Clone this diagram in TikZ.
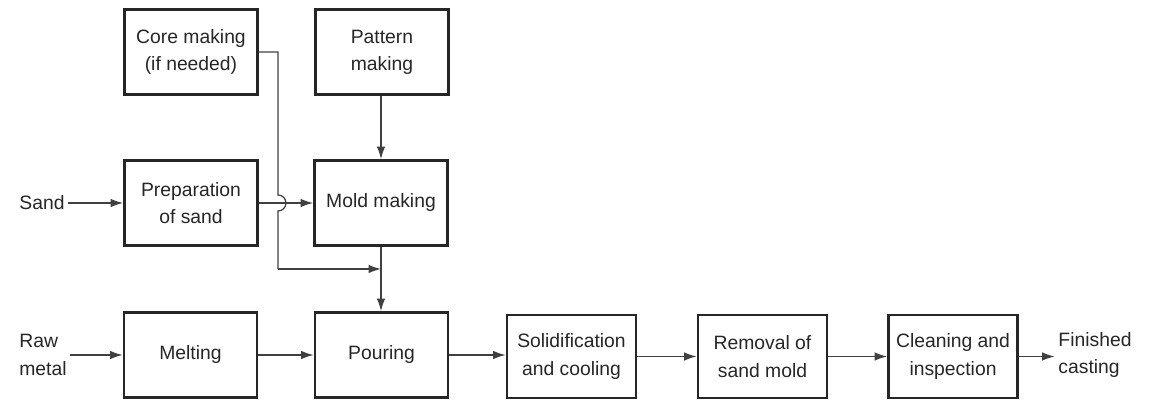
\documentclass[tikz,border=0pt]{standalone}
\usepackage{fontspec}
\setmainfont{Liberation Sans}
\usetikzlibrary{arrows.meta}

\tikzset{
  procbox/.style={draw=black!85, line width=1.6pt, align=center,
    minimum width=2.66cm, minimum height=1.7cm, inner sep=2pt,
    font=\fontsize{11}{15.5}\selectfont, text=black!85},
  lowbox/.style={procbox, minimum width=2.58cm, minimum height=1.66cm},
  endtext/.style={align=left, font=\fontsize{11}{15.5}\selectfont, text=black!85, inner sep=2pt},
  flow/.style={draw=black!75, line width=0.7pt, -{Latex[length=2.5mm,width=1.7mm]}},
  plainflow/.style={draw=black!75, line width=0.7pt}
}

\begin{document}
\begin{tikzpicture}[x=0.02cm, y=-0.02cm]
    \useasboundingbox (0,0) rectangle (1152,405);

    % upper boxes
    \node[procbox] (core) at (191,52) {Core making\\(if needed)};
    \node[procbox] (pattern) at (382,52) {Pattern\\making};
    \node[procbox] (prep) at (191,203) {Preparation\\of sand};
    \node[procbox] (mold) at (381,203) {Mold making};

    % main line
    \node[procbox] (melt) at (190.5,355) {Melting};
    \node[procbox] (pour) at (381.5,355) {Pouring};
    \node[lowbox] (solid) at (571.5,356.5) {Solidification\\and cooling};
    \node[lowbox] (removal) at (762.5,356.5) {Removal of\\sand mold};
    \node[lowbox] (clean) at (953,356.5) {Cleaning and\\inspection};

    \node[endtext] (sand) at (42,203) {Sand};
    \node[endtext] (raw) at (43,355) {Raw\\metal};
    \node[endtext] (finished) at (1095,355) {Finished\\casting};

    \coordinate (corebend) at (278,52);
    \coordinate (hoptop) at (278,195);
    \coordinate (corelow) at (278,269);
    \coordinate (join) at (381,269);

    \draw[flow] (sand) -- (prep);
    \draw[flow] (prep) -- (mold);
    \draw[flow] (pattern.south -| mold.north) -- (mold.north);
    \draw[flow] (raw.east |- melt.west) -- (melt);
    \draw[flow] (melt) -- (pour);
    \draw[flow] (pour.east) -- (pour.east -| solid.west);
    \draw[flow] (solid) -- (removal);
    \draw[flow] (removal) -- (clean);
    \draw[flow] (clean) -- (clean.east -| finished.west);

    % core line jumps over the sand line
    \draw[plainflow] (core.east |- corebend) -- (corebend) -- (hoptop)
        arc[start angle=90, end angle=-90, radius=0.16cm] -- (corelow);
    \draw[flow] (corelow) -- (join);
    \draw[flow] (mold.south) -- (mold.south |- pour.north);

\end{tikzpicture}
\end{document}
